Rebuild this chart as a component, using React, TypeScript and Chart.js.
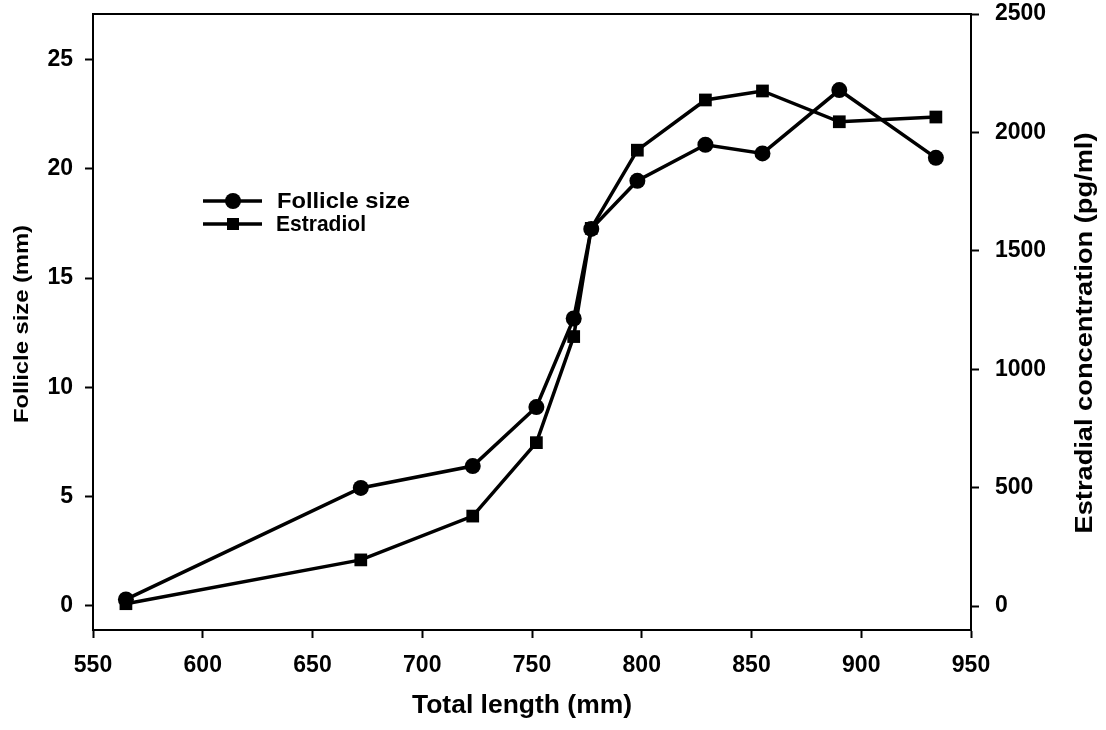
import React, { useEffect, useRef } from 'react';
import { Chart, registerables } from 'chart.js';

Chart.register(...registerables);

// ---- data ----
const totalLength = [565, 672, 723, 752, 769, 777, 798, 829, 855, 890, 934];
const follicleSize = [0.3, 5.4, 6.4, 9.1, 13.15, 17.25, 19.45, 21.1, 20.7, 23.6, 20.5];
const estradiol = [10, 195, 380, 690, 1138, 1595, 1925, 2137, 2175, 2045, 2065];

const leftTicks = [0, 5, 10, 15, 20, 25];
const rightTicks = [0, 500, 1000, 1500, 2000, 2500];

const seriesNames = ['Follicle size', 'Estradiol'];
const xTitle = 'Total length (mm)';
const leftTitle = 'Follicle size (mm)';
const rightTitle = 'Estradial concentration (pg/ml)';

const FONT = '"Liberation Sans", Arial, sans-serif';

function drawText(
  ctx: CanvasRenderingContext2D,
  text: string,
  x: number,
  y: number,
  size: number,
  targetLen: number,
  rotation: number,
  align: CanvasTextAlign
) {
  ctx.save();
  ctx.font = `bold ${size}px ${FONT}`;
  const w = ctx.measureText(text).width;
  const sx = targetLen > 0 ? targetLen / w : 1;
  ctx.translate(x, y);
  ctx.rotate(rotation);
  ctx.scale(sx, 1);
  ctx.textAlign = align;
  ctx.textBaseline = 'middle';
  ctx.fillStyle = '#000';
  ctx.fillText(text, 0, 0);
  ctx.restore();
}

const decorPlugin = {
  id: 'decor',
  afterDraw(chart: any) {
    const ctx: CanvasRenderingContext2D = chart.ctx;
    const a = chart.chartArea;
    ctx.save();
    // top frame line
    ctx.strokeStyle = '#000';
    ctx.lineWidth = 2;
    ctx.beginPath();
    ctx.moveTo(a.left, a.top);
    ctx.lineTo(a.right, a.top);
    ctx.stroke();

    // axis titles
    drawText(ctx, xTitle, 522, 706, 25, 220, 0, 'center');
    drawText(ctx, leftTitle, 22, 324, 21, 198, -Math.PI / 2, 'center');
    drawText(ctx, rightTitle, 1086, 333, 23, 401, -Math.PI / 2, 'center');

    // legend
    const lx0 = 203;
    const lx1 = 262;
    const mx = 233;
    const rows = [201, 224];
    ctx.lineWidth = 3.5;
    ctx.fillStyle = '#000';
    rows.forEach((ry, i) => {
      ctx.beginPath();
      ctx.moveTo(lx0, ry);
      ctx.lineTo(lx1, ry);
      ctx.stroke();
      if (i === 0) {
        ctx.beginPath();
        ctx.arc(mx, ry, 8, 0, Math.PI * 2);
        ctx.fill();
      } else {
        ctx.fillRect(mx - 6, ry - 6, 12, 12);
      }
    });
    drawText(ctx, seriesNames[0], 277, rows[0] + 1, 22, 133, 0, 'left');
    drawText(ctx, seriesNames[1], 276, rows[1] + 1, 22, 90, 0, 'left');
    ctx.restore();
  },
};

export default function App() {
  const ref = useRef<HTMLCanvasElement | null>(null);

  useEffect(() => {
    if (!ref.current) return;
    const tickFont = { family: FONT, size: 23, weight: 'bold' as const };
    const grid = {
      drawOnChartArea: false,
      drawTicks: true,
      tickLength: 8,
      tickWidth: 2,
      color: '#000',
    };
    const border = { display: true, color: '#000', width: 2 };
    const plain = (v: any) => String(v);
    const noPad = (s: any) => {
      s.paddingTop = 0;
      s.paddingBottom = 0;
      s.paddingLeft = 0;
      s.paddingRight = 0;
    };

    const chart = new Chart(ref.current, {
      type: 'line',
      data: {
        datasets: [
          {
            label: seriesNames[0],
            data: totalLength.map((x, i) => ({ x, y: follicleSize[i] })),
            yAxisID: 'y',
            borderColor: '#000',
            backgroundColor: '#000',
            borderWidth: 3.5,
            pointStyle: 'circle',
            pointRadius: 8,
            pointBorderWidth: 0,
            tension: 0,
          },
          {
            label: seriesNames[1],
            data: totalLength.map((x, i) => ({ x, y: estradiol[i] })),
            yAxisID: 'y2',
            borderColor: '#000',
            backgroundColor: '#000',
            borderWidth: 3.5,
            pointStyle: 'rect',
            pointRadius: 9,
            pointBorderWidth: 0,
            tension: 0,
          },
        ],
      },
      options: {
        responsive: false,
        animation: false,
        layout: { padding: { top: 14, left: 0, right: 0, bottom: 0 } },
        plugins: {
          legend: { display: false },
          tooltip: { enabled: false },
        },
        scales: {
          x: {
            type: 'linear',
            position: 'bottom',
            min: 550,
            max: 950,
            ticks: { stepSize: 50, font: tickFont, color: '#000', padding: 14, maxRotation: 0, callback: plain },
            grid,
            border,
            afterFit: (s: any) => {
              s.height = 100;
              noPad(s);
            },
          },
          y: {
            type: 'linear',
            position: 'left',
            min: -1.1,
            max: 27.08,
            ticks: { font: tickFont, color: '#000', padding: 12, callback: plain },
            afterBuildTicks: (s: any) => {
              s.ticks = leftTicks.map((v) => ({ value: v }));
            },
            grid,
            border,
            afterFit: (s: any) => {
              s.width = 93;
              noPad(s);
            },
          },
          y2: {
            type: 'linear',
            position: 'right',
            min: -101,
            max: 2500,
            ticks: { font: tickFont, color: '#000', padding: 16, callback: plain },
            afterBuildTicks: (s: any) => {
              s.ticks = rightTicks.map((v) => ({ value: v }));
            },
            grid,
            border,
            afterFit: (s: any) => {
              s.width = 135;
              noPad(s);
            },
          },
        },
      } as any,
      plugins: [decorPlugin],
    });
    return () => chart.destroy();
  }, []);

  return (
    <div style={{ position: 'absolute', left: 0, top: 0, width: 1106, height: 730, background: '#fff' }}>
      <canvas ref={ref} width={1106} height={730} />
    </div>
  );
}
